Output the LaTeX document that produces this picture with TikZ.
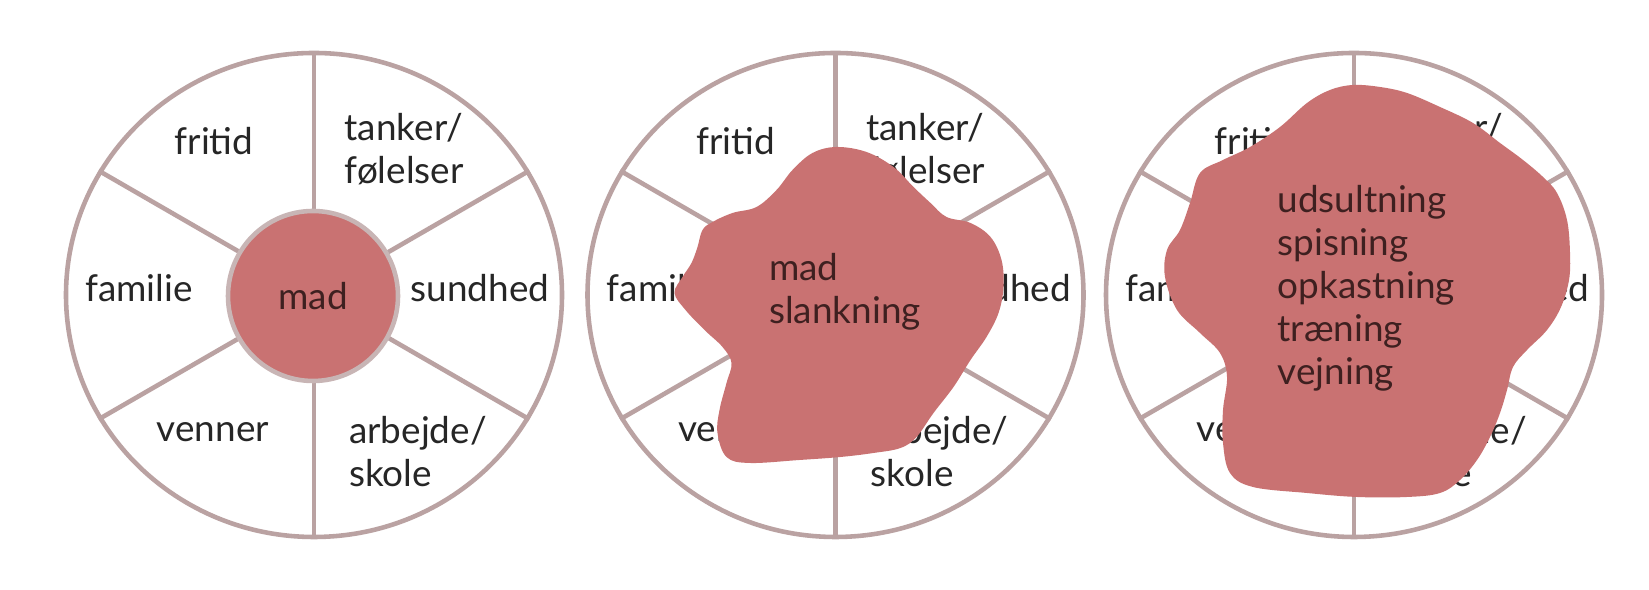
\documentclass[tikz,border=0pt]{standalone}
\usepackage{fontspec}
\setmainfont{Lato}
\usetikzlibrary{shapes.geometric}

\definecolor{spoke}{RGB}{186,162,162}
\definecolor{blob}{RGB}{201,114,114}
\definecolor{ink}{RGB}{38,38,38}
\definecolor{blobink}{RGB}{62,32,32}

\begin{document}
\begin{tikzpicture}[
  rim/.style={ellipse, draw=spoke, line width=1.3pt, minimum width=4.96cm, minimum height=4.84cm, inner sep=0pt},
  spokeline/.style={draw=spoke, line width=1.3pt},
  lbl/.style={text=ink, inner sep=0pt, font=\fontsize{10.5}{12.5}\selectfont},
  blobtxt/.style={text=blobink, inner sep=0pt, align=left, anchor=base west, font=\fontsize{10.5}{12.3}\selectfont},
  blobfill/.style={fill=blob}
]
\useasboundingbox[fill=white] (0,0) rectangle (16.49,5.90);

% three wheels with the same six fields
\foreach \w/\x in {1/3.14, 2/8.355, 3/13.54}{
  \coordinate (c\w) at (\x,2.95);
  \node[rim] (rim\w) at (c\w) {};
  \foreach \a in {30,90,...,330}
    \draw[spokeline] (c\w) -- (rim\w.\a);
  \node[lbl, anchor=base] (fritid\w) at (\x-1.0,4.35) {fritid};
  \node[lbl, anchor=base west, align=left] (tanker\w) at (\x+0.30,4.06) {tanker/\\følelser};
  \node[lbl, anchor=base] (familie\w) at (\x-1.75,2.88) {familie};
  \node[lbl, anchor=base] (sundhed\w) at (\x+1.66,2.88) {sundhed};
  \node[lbl, anchor=base] (venner\w) at (\x-1.01,1.48) {venner};
  \node[lbl, anchor=base west, align=left] (arbejde\w) at (\x+0.345,1.03) {arbejde/\\skole};
}

% wheel 1: food in the middle
\node[circle, fill=blob, draw=spoke!80, line width=1.3pt, minimum size=1.70cm, inner sep=0pt,
  text=blobink, font=\fontsize{10.5}{12.5}\selectfont] (mad) at (3.13,2.94) {mad};

% wheel 2: food and dieting spreading out
\fill[blobfill, shift={(c2)}] plot[smooth cycle, tension=0.6] coordinates {
  (0.01,1.48) (0.31,1.43) (0.58,1.28) (0.78,1.08) (0.95,0.92) (1.11,0.78) (1.35,0.72)
  (1.55,0.58) (1.66,0.35) (1.68,0.08) (1.63,-0.18) (1.51,-0.42) (1.35,-0.65) (1.18,-0.92)
  (0.98,-1.18) (0.81,-1.42) (0.65,-1.53) (0.38,-1.58) (0.05,-1.62) (-0.36,-1.65) (-0.86,-1.68)
  (-1.09,-1.62) (-1.18,-1.38) (-1.16,-1.15) (-1.09,-0.88) (-1.04,-0.68) (-1.13,-0.52)
  (-1.31,-0.35) (-1.50,-0.15) (-1.61,0.02) (-1.53,0.18) (-1.44,0.32) (-1.38,0.48)
  (-1.33,0.65) (-1.23,0.73) (-1.03,0.82) (-0.79,0.88) (-0.59,1.05) (-0.43,1.25) (-0.23,1.42)};
\node[blobtxt] (slank) at (8.355-0.67,2.66) {mad\\slankning};

% wheel 3: everything taken over
\fill[blobfill, shift={(c3)}] plot[smooth cycle, tension=0.6] coordinates {
  (-0.01,2.10) (0.26,2.08) (0.53,2.02) (0.86,1.88) (1.19,1.72) (1.46,1.52) (1.69,1.35)
  (1.89,1.18) (2.03,1.02) (2.13,0.75) (2.16,0.42) (2.15,0.15) (2.07,-0.12) (1.93,-0.35)
  (1.73,-0.55) (1.59,-0.72) (1.53,-0.95) (1.46,-1.18) (1.36,-1.42) (1.23,-1.65) (1.06,-1.85)
  (0.86,-1.98) (0.53,-2.02) (0.03,-2.02) (-0.47,-1.98) (-1.01,-1.92) (-1.24,-1.78)
  (-1.31,-1.48) (-1.31,-1.15) (-1.27,-0.82) (-1.34,-0.58) (-1.54,-0.38) (-1.77,-0.15)
  (-1.89,0.18) (-1.87,0.45) (-1.74,0.65) (-1.64,0.92) (-1.54,1.22) (-1.31,1.35)
  (-1.04,1.48) (-0.74,1.68) (-0.47,1.92) (-0.24,2.05)};
\node[blobtxt] (udsult) at (13.54-0.77,2.05) {udsultning\\spisning\\opkastning\\træning\\vejning};
\end{tikzpicture}
\end{document}
